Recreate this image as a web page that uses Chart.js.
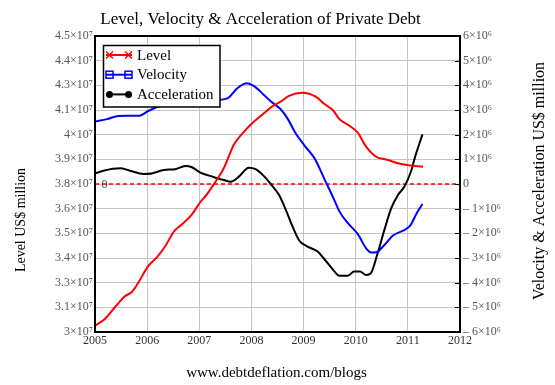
<!DOCTYPE html>
<html>
<head>
<meta charset="utf-8">
<script src="https://cdn.jsdelivr.net/npm/chart.js@4.4.0/dist/chart.umd.min.js"></script>
<style>
  body { margin: 0; background: #fff; }
  #chart { display: block; }
</style>
</head>
<body>
<canvas id="chart" width="555" height="385"></canvas>
<script>
// values (US$ million)
const levelYears = [2005.00, 2005.19, 2005.39, 2005.58, 2005.71, 2005.83, 2006.01, 2006.19, 2006.35, 2006.51,
  2006.67, 2006.86, 2007.01, 2007.15, 2007.29, 2007.47, 2007.66, 2007.83, 2007.99, 2008.24,
  2008.37, 2008.56, 2008.72, 2008.98, 2009.24, 2009.40, 2009.56, 2009.69, 2009.88, 2010.04,
  2010.20, 2010.39, 2010.62, 2010.81, 2011.01, 2011.29];
const levelValues = [3.032e7, 3.066e7, 3.128e7, 3.182e7, 3.204e7, 3.25e7, 3.33e7, 3.379e7, 3.436e7, 3.508e7,
  3.546e7, 3.596e7, 3.655e7, 3.699e7, 3.753e7, 3.83e7, 3.948e7, 4.007e7, 4.052e7, 4.108e7,
  4.138e7, 4.167e7, 4.197e7, 4.213e7, 4.192e7, 4.155e7, 4.125e7, 4.078e7, 4.045e7, 4.01e7,
  3.939e7, 3.888e7, 3.872e7, 3.855e7, 3.845e7, 3.838e7];

const velocityYears = [2005.00, 2005.23, 2005.45, 2005.85, 2006.03, 2006.25, 2006.77, 2007.31, 2007.54, 2007.73,
  2007.91, 2008.05, 2008.24, 2008.37, 2008.56, 2008.69, 2008.85, 2009.01, 2009.21, 2009.40,
  2009.56, 2009.69, 2009.85, 2010.04, 2010.20, 2010.30, 2010.39, 2010.55, 2010.72, 2010.94,
  2011.04, 2011.17, 2011.28];
const velocityValues = [2.53e6, 2.63e6, 2.76e6, 2.77e6, 2.97e6, 3.16e6, 3.3e6, 3.4e6, 3.47e6, 3.88e6,
  4.08e6, 3.97e6, 3.61e6, 3.35e6, 3.03e6, 2.66e6, 2.05e6, 1.58e6, 1.04e6, 0.2e6,
  -0.51e6, -1.12e6, -1.59e6, -2.03e6, -2.61e6, -2.78e6, -2.77e6, -2.47e6, -2.08e6, -1.86e6,
  -1.7e6, -1.19e6, -0.81e6];

const accelYears = [2005.00, 2005.16, 2005.48, 2005.67, 2005.93, 2006.09, 2006.32, 2006.54, 2006.73, 2006.86,
  2007.02, 2007.22, 2007.34, 2007.47, 2007.60, 2007.76, 2007.95, 2008.08, 2008.24, 2008.37,
  2008.53, 2008.66, 2008.79, 2008.92, 2009.05, 2009.27, 2009.40, 2009.56, 2009.69, 2009.85,
  2009.97, 2010.08, 2010.20, 2010.29, 2010.41, 2010.55, 2010.68, 2010.81, 2010.94, 2011.07,
  2011.13, 2011.28];
const accelValues = [0.43e6, 0.54e6, 0.64e6, 0.54e6, 0.41e6, 0.43e6, 0.57e6, 0.6e6, 0.73e6, 0.68e6,
  0.46e6, 0.32e6, 0.23e6, 0.16e6, 0.09e6, 0.3e6, 0.66e6, 0.6e6, 0.32e6, 0.0,
  -0.45e6, -1.05e6, -1.73e6, -2.3e6, -2.51e6, -2.74e6, -3.05e6, -3.46e6, -3.72e6, -3.72e6,
  -3.55e6, -3.55e6, -3.69e6, -3.62e6, -2.88e6, -1.86e6, -0.99e6, -0.45e6, -0.08e6, 0.57e6,
  1.04e6, 2.01e6];

const zeroYears = [2005, 2012];
const zeroValues = [0, 0];

const yearTicks = [2005, 2006, 2007, 2008, 2009, 2010, 2011, 2012];

const SERIF = '"Liberation Serif", "Times New Roman", serif';
const tickColor = '#555';
const gridColor = '#c4c4c4';

function pairs(xs, ys) {
  return xs.map((x, i) => ({ x: x, y: ys[i] }));
}

function leftLabel(v) {
  return parseFloat((v / 1e7).toPrecision(2)) + '\u00d710\u2077';
}

function rightLabel(v) {
  if (Math.abs(v) < 1) return '0';
  const m = Math.round(Math.abs(v) / 1e6);
  return (v < 0 ? '\u2013 ' : '') + m + '\u00d710\u2076';
}

const decor = {
  id: 'decor',
  afterDraw(chart) {
    const ctx = chart.ctx;
    const a = chart.chartArea;
    const yR = chart.scales.yR;
    ctx.save();

    // plot frame
    ctx.strokeStyle = '#000';
    ctx.lineWidth = 2;
    ctx.strokeRect(a.left, a.top, a.right - a.left, a.bottom - a.top);

    // inward ticks on right axis
    ctx.lineWidth = 1;
    yR.ticks.forEach(t => {
      const y = Math.round(yR.getPixelForValue(t.value)) + 0.5;
      ctx.beginPath();
      ctx.moveTo(a.right - 5, y);
      ctx.lineTo(a.right, y);
      ctx.stroke();
    });

    // "0" marker on the dashed line
    ctx.fillStyle = '#444';
    ctx.font = '12px ' + SERIF;
    ctx.textAlign = 'center';
    ctx.textBaseline = 'middle';
    ctx.fillText('0', a.left + 9.5, yR.getPixelForValue(0) + 1);

    // title
    ctx.fillStyle = '#000';
    ctx.font = '17px ' + SERIF;
    ctx.textBaseline = 'alphabetic';
    ctx.fillText('Level, Velocity & Acceleration of Private Debt', 260.5, 24);

    // footer
    ctx.font = '15px ' + SERIF;
    ctx.fillText('www.debtdeflation.com/blogs', 276.5, 377);

    // axis titles
    ctx.textBaseline = 'middle';
    ctx.font = '14px ' + SERIF;
    ctx.save();
    ctx.translate(21, 220);
    ctx.rotate(-Math.PI / 2);
    ctx.fillText('Level US$ million', 0, 0);
    ctx.restore();
    ctx.font = '16px ' + SERIF;
    ctx.save();
    ctx.translate(540, 181);
    ctx.rotate(-Math.PI / 2);
    ctx.fillText('Velocity & Acceleration US$ million', 0, 0);
    ctx.restore();

    // legend
    const lx = 103.5, ly = 45.5, lw = 116.5, lh = 61.5;
    ctx.fillStyle = '#fff';
    ctx.fillRect(lx, ly, lw, lh);
    ctx.strokeStyle = '#000';
    ctx.lineWidth = 1.5;
    ctx.strokeRect(lx, ly, lw, lh);
    ctx.font = '15px ' + SERIF;
    ctx.textAlign = 'left';
    ctx.textBaseline = 'alphabetic';
    const rows = [0, 1, 2];
    rows.forEach(i => {
      const ds = chart.data.datasets[i];
      const cy = 55 + i * 19.7;
      ctx.strokeStyle = ds.borderColor;
      ctx.fillStyle = ds.borderColor;
      ctx.lineWidth = 2;
      ctx.beginPath();
      ctx.moveTo(106, cy);
      ctx.lineTo(132, cy);
      ctx.stroke();
      [109.5, 128.5].forEach(mx => {
        ctx.lineWidth = 1.5;
        if (i === 0) {
          ctx.beginPath();
          ctx.moveTo(mx - 3.5, cy - 3.5); ctx.lineTo(mx + 3.5, cy + 3.5);
          ctx.moveTo(mx - 3.5, cy + 3.5); ctx.lineTo(mx + 3.5, cy - 3.5);
          ctx.stroke();
        } else if (i === 1) {
          ctx.strokeRect(mx - 3.5, cy - 3.5, 7, 7);
        } else {
          ctx.beginPath();
          ctx.arc(mx, cy, 3.5, 0, Math.PI * 2);
          ctx.fill();
        }
      });
      ctx.fillStyle = '#000';
      ctx.fillText(ds.label, 137, cy + 4.7);
    });

    ctx.restore();
  }
};

new Chart(document.getElementById('chart'), {
  type: 'line',
  data: {
    datasets: [
      {
        label: 'Level',
        data: pairs(levelYears, levelValues),
        yAxisID: 'yL',
        borderColor: '#ff0000',
        borderWidth: 2,
        pointRadius: 0,
        cubicInterpolationMode: 'monotone'
      },
      {
        label: 'Velocity',
        data: pairs(velocityYears, velocityValues),
        yAxisID: 'yR',
        borderColor: '#0000ff',
        borderWidth: 2,
        pointRadius: 0,
        cubicInterpolationMode: 'monotone'
      },
      {
        label: 'Acceleration',
        data: pairs(accelYears, accelValues),
        yAxisID: 'yR',
        borderColor: '#000000',
        borderWidth: 2,
        pointRadius: 0,
        cubicInterpolationMode: 'monotone'
      },
      {
        label: 'zero',
        data: pairs(zeroYears, zeroValues),
        yAxisID: 'yR',
        borderColor: '#ff0000',
        borderWidth: 1.5,
        borderDash: [4, 3],
        pointRadius: 0
      }
    ]
  },
  options: {
    responsive: false,
    animation: false,
    devicePixelRatio: 1,
    layout: { padding: { top: 36, left: 0, right: 0, bottom: 0 } },
    plugins: {
      legend: { display: false },
      title: { display: false },
      tooltip: { enabled: false }
    },
    scales: {
      x: {
        type: 'linear',
        min: 2005,
        max: 2012,
        afterFit: s => { s.height = 53; },
        afterBuildTicks: s => { s.ticks = yearTicks.map(v => ({ value: v })); },
        ticks: {
          callback: v => String(v),
          color: '#333',
          font: { family: SERIF, size: 12 },
          padding: 2,
          maxRotation: 0,
          autoSkip: false
        },
        grid: { color: gridColor, lineWidth: 1, drawTicks: false },
        border: { display: false }
      },
      yL: {
        type: 'linear',
        position: 'left',
        min: 3e7,
        max: 4.5e7,
        afterFit: s => { s.width = 95; },
        ticks: {
          stepSize: 1.25e6,
          callback: leftLabel,
          color: tickColor,
          font: { family: SERIF, size: 12 },
          padding: 2
        },
        grid: { color: gridColor, lineWidth: 1, drawTicks: false },
        border: { display: false }
      },
      yR: {
        type: 'linear',
        position: 'right',
        min: -6e6,
        max: 6e6,
        afterFit: s => { s.width = 95; },
        ticks: {
          stepSize: 1e6,
          callback: rightLabel,
          color: tickColor,
          font: { family: SERIF, size: 12 },
          padding: 3
        },
        grid: { drawOnChartArea: false, drawTicks: false },
        border: { display: false }
      }
    }
  },
  plugins: [decor]
});
</script>
</body>
</html>
